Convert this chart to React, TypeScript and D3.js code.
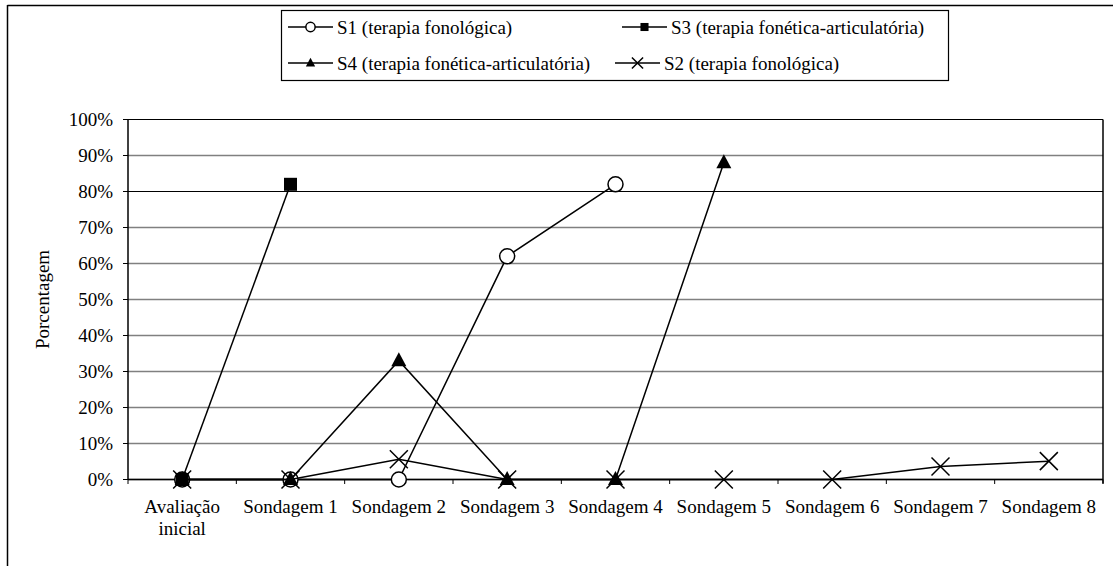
import React from "react";
import * as d3 from "d3";

const categories = [
  "Avaliação\ninicial",
  "Sondagem 1",
  "Sondagem 2",
  "Sondagem 3",
  "Sondagem 4",
  "Sondagem 5",
  "Sondagem 6",
  "Sondagem 7",
  "Sondagem 8",
];

const s1Values: (number | null)[] = [0, 0, 0, 62, 82, null, null, null, null];
const s3Values: (number | null)[] = [0, 82, null, null, null, null, null, null, null];
const s4Values: (number | null)[] = [0, 0, 33, 0, 0, 88, null, null, null];
const s2Values: (number | null)[] = [0, 0, 5.6, 0, 0, 0, 0, 3.6, 5.1];

const yTicks = [0, 10, 20, 30, 40, 50, 60, 70, 80, 90, 100];

const seriesNames = [
  "S1 (terapia fonológica)",
  "S3 (terapia fonética-articulatória)",
  "S4 (terapia fonética-articulatória)",
  "S2 (terapia fonológica)",
];

type MarkerKind = "circle" | "square" | "triangle" | "cross";

const series: { name: string; values: (number | null)[]; marker: MarkerKind }[] = [
  { name: seriesNames[0], values: s1Values, marker: "circle" },
  { name: seriesNames[1], values: s3Values, marker: "square" },
  { name: seriesNames[2], values: s4Values, marker: "triangle" },
  { name: seriesNames[3], values: s2Values, marker: "cross" },
];

const FONT = "Liberation Serif";

function Marker({ kind, x, y, scale = 1 }: { kind: MarkerKind; x: number; y: number; scale?: number }) {
  if (kind === "circle") {
    return <circle cx={x} cy={y} r={7.5 * scale} fill="#fff" stroke="#000" strokeWidth={1.5} />;
  }
  if (kind === "square") {
    const s = 13 * scale;
    return <rect x={x - s / 2} y={y - s / 2} width={s} height={s} fill="#000" />;
  }
  if (kind === "triangle") {
    const w = 15 * scale;
    const h = 14 * scale;
    return (
      <path
        d={`M${x},${y - h * 0.6}L${x + w / 2},${y + h * 0.4}L${x - w / 2},${y + h * 0.4}Z`}
        fill="#000"
      />
    );
  }
  const c = 9 * scale;
  return (
    <path
      d={`M${x - c},${y - c}L${x + c},${y + c}M${x - c},${y + c}L${x + c},${y - c}`}
      stroke="#000"
      strokeWidth={1.5}
      fill="none"
    />
  );
}

export default function App() {
  const width = 1116;
  const height = 566;
  const left = 128;
  const right = 1103;
  const top = 119.5;
  const bottom = 479.5;

  const x = d3.scaleBand<string>().domain(categories).range([left, right]).padding(0);
  const y = d3.scaleLinear().domain([0, 100]).range([bottom, top]);
  const cx = (c: string) => (x(c) as number) + x.bandwidth() / 2;

  const line = d3
    .line<number | null>()
    .defined((d) => d !== null)
    .x((_, i) => cx(categories[i]))
    .y((d) => y(d as number));

  const boundaries = categories.map((c) => x(c) as number).concat([right]);

  const legendItems = [
    { s: series[0], lx: 288, ty: 27 },
    { s: series[1], lx: 622, ty: 27 },
    { s: series[2], lx: 288, ty: 63 },
    { s: series[3], lx: 615, ty: 63 },
  ];

  return (
    <svg
      width={width}
      height={height}
      style={{ position: "absolute", left: 0, top: 0, background: "#fff" }}
    >
      <rect x={0} y={0} width={width} height={height} fill="#fff" />
      {/* outer frame */}
      <line x1={7.5} y1={5.5} x2={1113} y2={5.5} stroke="#000" strokeWidth={1.5} />
      <line x1={7.5} y1={5} x2={7.5} y2={height} stroke="#000" strokeWidth={1.5} />

      {/* gridlines */}
      {yTicks.map((t) => (
        <line
          key={"g" + t}
          x1={left}
          x2={right}
          y1={y(t)}
          y2={y(t)}
          stroke={t === 80 || t === 100 ? "#000" : "#808080"}
          strokeWidth={t === 80 || t === 100 ? 1 : 1.3}
        />
      ))}
      {/* plot border / axes */}
      <line x1={right} x2={right} y1={top} y2={bottom + 4} stroke="#000" strokeWidth={1.5} />
      <line x1={left} x2={left} y1={top} y2={bottom} stroke="#000" strokeWidth={1.5} />
      <line x1={left} x2={right} y1={bottom} y2={bottom} stroke="#000" strokeWidth={1.5} />

      {/* y ticks & labels */}
      {yTicks.map((t) => (
        <g key={"t" + t}>
          <line x1={left - 5} x2={left} y1={y(t)} y2={y(t)} stroke="#000" strokeWidth={1} />
          <text x={113} y={y(t) + 6.3} textAnchor="end" fontSize={19} fontFamily={FONT}>
            {t}%
          </text>
        </g>
      ))}

      {/* x ticks & labels */}
      {boundaries.map((b, i) => (
        <line key={"x" + i} x1={b} x2={b} y1={bottom} y2={bottom + 4.5} stroke="#000" strokeWidth={1} />
      ))}
      {categories.map((c) => (
        <text key={c} x={cx(c)} y={513} textAnchor="middle" fontSize={19} fontFamily={FONT}>
          {c.split("\n").map((ln, i) => (
            <tspan key={i} x={cx(c)} dy={i === 0 ? 0 : 22}>
              {ln}
            </tspan>
          ))}
        </text>
      ))}

      {/* y title */}
      <text
        x={-(top + bottom) / 2}
        y={49}
        transform="rotate(-90)"
        textAnchor="middle"
        fontSize={19}
        fontFamily={FONT}
      >
        Porcentagem
      </text>

      {/* series */}
      {series.map((s) => (
        <g key={s.name}>
          <path d={line(s.values) || ""} fill="none" stroke="#000" strokeWidth={1.5} />
          {s.values.map((v, i) =>
            v === null ? null : <Marker key={i} kind={s.marker} x={cx(categories[i])} y={y(v)} />
          )}
        </g>
      ))}

      {/* legend */}
      <rect x={281.5} y={10.5} width={667} height={70} fill="#fff" stroke="#000" strokeWidth={1.2} />
      {legendItems.map(({ s, lx, ty }) => (
        <g key={"l" + s.name}>
          <line x1={lx} x2={lx + 45} y1={ty} y2={ty} stroke="#000" strokeWidth={1.5} />
          <Marker kind={s.marker} x={lx + 22.5} y={ty} scale={0.62} />
          <text x={lx + 49} y={ty + 6.5} fontSize={19} fontFamily={FONT}>
            {s.name}
          </text>
        </g>
      ))}
    </svg>
  );
}
